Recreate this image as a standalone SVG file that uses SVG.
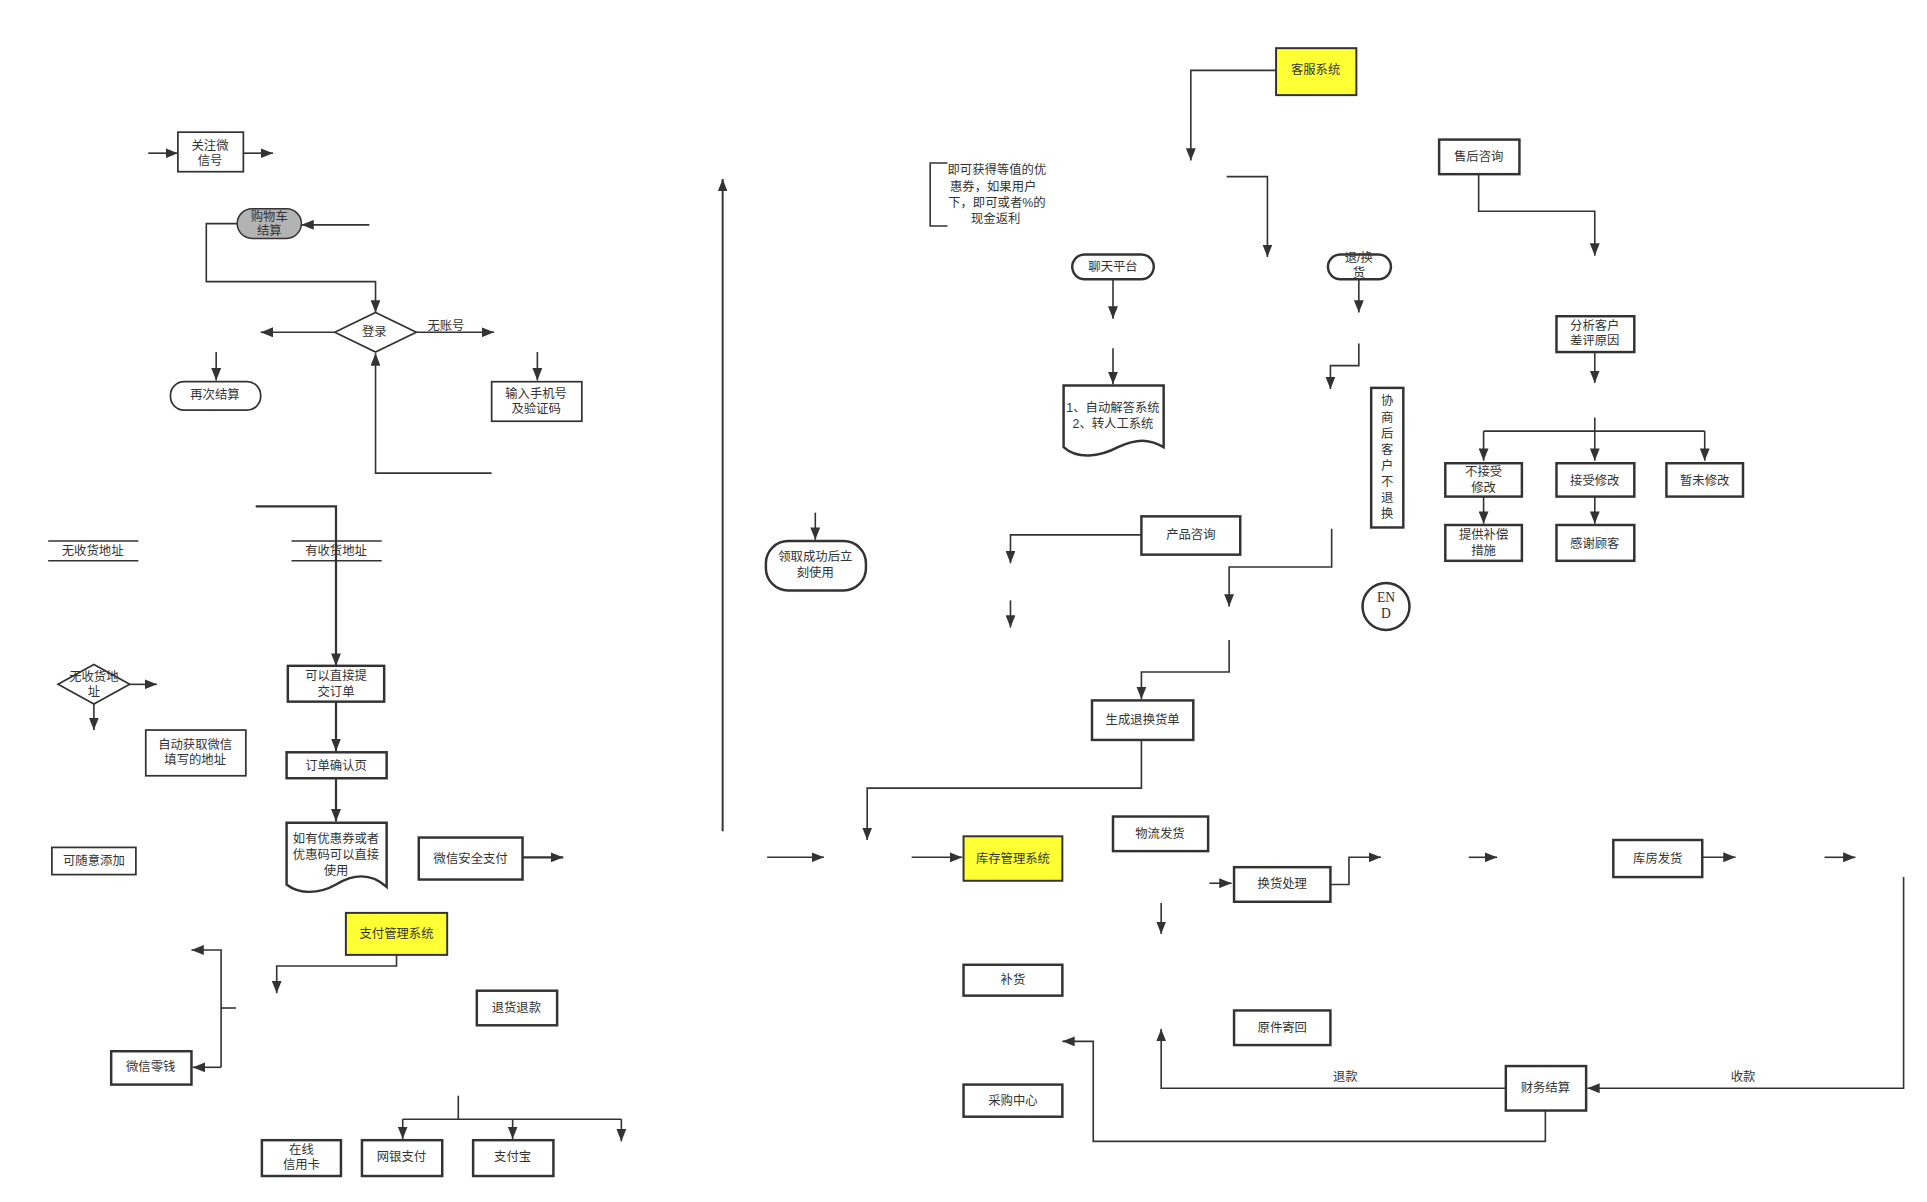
<svg xmlns="http://www.w3.org/2000/svg" width="1927" height="1202" viewBox="0 0 1927 1202">
<style>
.n{fill:#fff;stroke:#333;stroke-width:1.4}
.t{stroke-width:2}
.y{fill:#ffff33;stroke:#333;stroke-width:1.6}
.g{fill:#b3b3b3;stroke:#333;stroke-width:1.2}
text{font-family:"Liberation Sans","Noto Sans CJK SC",sans-serif;font-size:10px;fill:#333;text-anchor:middle;dominant-baseline:central}
.c path,.c line,.c polyline{fill:none;stroke:#333;stroke-width:1.3}
.c .a{marker-end:url(#ar)}
</style>
<defs>
<marker id="ar" markerUnits="userSpaceOnUse" viewBox="0 0 10 8" refX="10" refY="4" markerWidth="10" markerHeight="8" orient="auto"><path d="M0,0 L10,4 L0,8 Z" fill="#333"/></marker>
</defs>
<rect width="1927" height="1202" fill="#fff"/>
<g transform="scale(1.2353)">
<g class="c" id="connectors">
<path class="a" d="M120,124H144"/><path class="a" d="M197,124H221"/>
<path class="a" d="M299,182H244"/>
<path class="a" d="M192,181H167V228H304V253"/>
<path class="a" d="M271,269H211"/><path class="a" d="M337,269H400"/>
<path class="a" d="M175,285V308"/><path class="a" d="M435,285V308"/>
<path class="a" d="M398,383H304V286"/>
<path class="a" d="M207,410H272V539" style="stroke-width:1.8"/>
<path class="a" d="M105,554H127"/><path class="a" d="M76,570V591"/>
<path class="a" d="M272,568V608" style="stroke-width:1.8"/>
<path class="a" d="M272,630V665" style="stroke-width:1.8"/>
<path class="a" d="M423,694H456" style="stroke-width:1.8"/>
<path class="a" d="M321,773V782H224V804"/>
<path d="M191,816H179"/><path class="a" d="M179,864V769H155"/><path class="a" d="M179,864H156"/>
<path d="M371,887V906"/><path d="M326,906H503"/>
<path class="a" d="M326,906V922"/><path class="a" d="M415,906V922"/><path class="a" d="M503,906V924"/>
<path class="a" d="M585,673V145" style="stroke-width:1.6"/>
<path class="a" d="M621,694H667"/><path class="a" d="M738,694H779"/>
<path d="M767,132H753V183H767"/>
<path class="a" d="M660,415V437"/>
<path class="a" d="M924,599V638H702V680"/>
<path class="a" d="M1033,57H964V130"/>
<path class="a" d="M993,143H1026V208"/>
<path class="a" d="M901,226V258"/><path class="a" d="M901,282V311"/>
<path class="a" d="M1100,226V253"/>
<path class="a" d="M1100,278V296H1077V315"/>
<path class="a" d="M924,433H818V456"/><path class="a" d="M818,486V508"/>
<path class="a" d="M1078,428V459H995V491"/>
<path class="a" d="M995,518V544H924V566"/>
<path class="a" d="M979,715H997"/>
<path class="a" d="M1077,716H1092V694H1118"/>
<path class="a" d="M940,731V756"/>
<path class="a" d="M1219,881H940V833"/>
<path class="a" d="M1251,899V924H885V843H860"/>
<path class="a" d="M1541,710V881H1285"/>
<path class="a" d="M1189,694H1212"/><path class="a" d="M1378,694H1405"/><path class="a" d="M1477,694H1502"/>
<path class="a" d="M1197,141V171H1291V207"/>
<path class="a" d="M1291,285V310"/>
<path class="a" d="M1291,338V373"/><path d="M1201,349H1380"/>
<path class="a" d="M1201,349V373"/><path class="a" d="M1380,349V373"/>
<path class="a" d="M1201,402V424"/><path class="a" d="M1291,402V424"/>
<text x="361" y="264">无账号</text>
<text x="1089" y="872">退款</text>
<text x="1411" y="872">收款</text>
</g>
<g id="n1"><rect class="n" x="144" y="107" width="53" height="32"/><text x="170" y="118">关注微</text><text x="170" y="130">信号</text></g>
<g id="n2"><rect class="g" x="192" y="169" width="52" height="24" rx="12"/><text x="218" y="176">购物车</text><text x="218" y="187">结算</text></g>
<g id="n3"><path class="n" d="M271,269L304,253L337,269L304,285Z"/><text x="303" y="269">登录</text></g>
<g id="n4"><rect class="n" x="138" y="309" width="73" height="23" rx="11"/><text x="174" y="320">再次结算</text></g>
<g id="n5"><rect class="n" x="398" y="309" width="73" height="32"/><text x="434" y="319">输入手机号</text><text x="434" y="331">及验证码</text></g>
<g id="n6"><path class="c" d="M39,438H112M39,454H112" style="stroke:#333;stroke-width:1.2"/><text x="75" y="446">无收货地址</text></g>
<g id="n7"><path d="M236,438H309M236,454H309" style="stroke:#333;stroke-width:1.2"/><text x="272" y="446">有收货地址</text></g>
<g id="n8"><path class="n" d="M47,554L76,538L105,554L76,570Z"/><text x="76" y="548">无收货地</text><text x="76" y="560">址</text></g>
<g id="n9"><rect class="n" x="118" y="591" width="81" height="37"/><text x="158" y="603">自动获取微信</text><text x="158" y="615">填写的地址</text></g>
<g id="n10"><rect class="n t" x="233" y="539" width="78" height="29"/><text x="272" y="547">可以直接提</text><text x="272" y="560">交订单</text></g>
<g id="n11"><rect class="n t" x="232" y="609" width="81" height="21"/><text x="272" y="620">订单确认页</text></g>
<g id="n12"><path class="n t" d="M232,666H313V718C300,706 285,708 272,716C258,724 242,724 232,716Z"/><text x="272" y="679">如有优惠券或者</text><text x="272" y="692">优惠码可以直接</text><text x="272" y="705">使用</text></g>
<g id="n13"><rect class="n" x="42" y="686" width="68" height="22"/><text x="76" y="697">可随意添加</text></g>
<g id="n14"><rect class="n t" x="339" y="678" width="84" height="34"/><text x="381" y="695">微信安全支付</text></g>
<g id="n15"><rect class="y" x="280" y="739" width="82" height="34"/><text x="321" y="756">支付管理系统</text></g>
<g id="n16"><rect class="n t" x="386" y="802" width="65" height="28"/><text x="418" y="816">退货退款</text></g>
<g id="n17"><rect class="n t" x="90" y="851" width="65" height="27"/><text x="122" y="864">微信零钱</text></g>
<g id="n18"><rect class="n t" x="212" y="923" width="64" height="29"/><text x="244" y="931">在线</text><text x="244" y="943">信用卡</text></g>
<g id="n19"><rect class="n t" x="293" y="923" width="65" height="29"/><text x="325" y="937">网银支付</text></g>
<g id="n20"><rect class="n t" x="383" y="923" width="65" height="29"/><text x="415" y="937">支付宝</text></g>
<g id="n21"><text x="807" y="138">即可获得等值的优</text><text x="804" y="151">惠券，如果用户</text><text x="807" y="164">下，即可或者%的</text><text x="806" y="177">现金返利</text></g>
<g id="n22"><rect class="n t" x="620" y="438" width="81" height="40" rx="18"/><text x="660" y="451">领取成功后立</text><text x="660" y="464">刻使用</text></g>
<g id="n23"><rect class="y" x="1033" y="39" width="65" height="38"/><text x="1065" y="57">客服系统</text></g>
<g id="n24"><rect class="n t" x="868" y="206" width="66" height="20" rx="10"/><text x="901" y="216">聊天平台</text></g>
<g id="n25"><path class="n t" d="M861,312H942V362C930,355 920,355 905,362C890,370 872,372 861,362Z"/><text x="901" y="330">1、自动解答系统</text><text x="901" y="343">2、转人工系统</text></g>
<g id="n26"><rect class="n t" x="1075" y="206" width="51" height="20" rx="10"/><text x="1100" y="209">退/换</text><text x="1100" y="221">货</text></g>
<g id="n27"><rect class="n t" x="1110" y="314" width="26" height="113"/><text x="1123" y="325">协</text><text x="1123" y="338">商</text><text x="1123" y="351">后</text><text x="1123" y="364">客</text><text x="1123" y="377">户</text><text x="1123" y="390">不</text><text x="1123" y="403">退</text><text x="1123" y="416">换</text></g>
<g id="n28"><rect class="n t" x="924" y="418" width="80" height="31"/><text x="964" y="433">产品咨询</text></g>
<g id="n29"><rect class="n t" x="884" y="567" width="82" height="32"/><text x="925" y="583">生成退换货单</text></g>
<g id="n30"><circle class="n t" cx="1122" cy="491" r="19"/><text x="1122" y="484" style="font-family:'Liberation Serif',serif;font-size:11px">EN</text><text x="1122" y="497" style="font-family:'Liberation Serif',serif;font-size:11px">D</text></g>
<g id="n31"><rect class="y" x="780" y="677" width="80" height="36"/><text x="820" y="695">库存管理系统</text></g>
<g id="n32"><rect class="n t" x="901" y="661" width="77" height="28"/><text x="939" y="675">物流发货</text></g>
<g id="n33"><rect class="n t" x="999" y="702" width="78" height="28"/><text x="1038" y="716">换货处理</text></g>
<g id="n34"><rect class="n t" x="780" y="781" width="80" height="25"/><text x="820" y="793">补货</text></g>
<g id="n35"><rect class="n t" x="999" y="818" width="78" height="28"/><text x="1038" y="832">原件寄回</text></g>
<g id="n36"><rect class="n t" x="780" y="878" width="80" height="26"/><text x="820" y="891">采购中心</text></g>
<g id="n37"><rect class="n t" x="1219" y="863" width="65" height="36"/><text x="1251" y="881">财务结算</text></g>
<g id="n38"><rect class="n t" x="1306" y="680" width="72" height="30"/><text x="1342" y="695">库房发货</text></g>
<g id="n39"><rect class="n t" x="1165" y="113" width="65" height="28"/><text x="1197" y="127">售后咨询</text></g>
<g id="n40"><rect class="n t" x="1260" y="256" width="63" height="29"/><text x="1291" y="264">分析客户</text><text x="1291" y="276">差评原因</text></g>
<g id="n41"><rect class="n t" x="1170" y="375" width="62" height="27"/><text x="1201" y="382">不接受</text><text x="1201" y="395">修改</text></g>
<g id="n42"><rect class="n t" x="1260" y="375" width="63" height="27"/><text x="1291" y="389">接受修改</text></g>
<g id="n43"><rect class="n t" x="1349" y="375" width="62" height="27"/><text x="1380" y="389">暂未修改</text></g>
<g id="n44"><rect class="n t" x="1170" y="425" width="62" height="29"/><text x="1201" y="433">提供补偿</text><text x="1201" y="446">措施</text></g>
<g id="n45"><rect class="n t" x="1260" y="425" width="63" height="29"/><text x="1291" y="440">感谢顾客</text></g>
</g>
</svg>
